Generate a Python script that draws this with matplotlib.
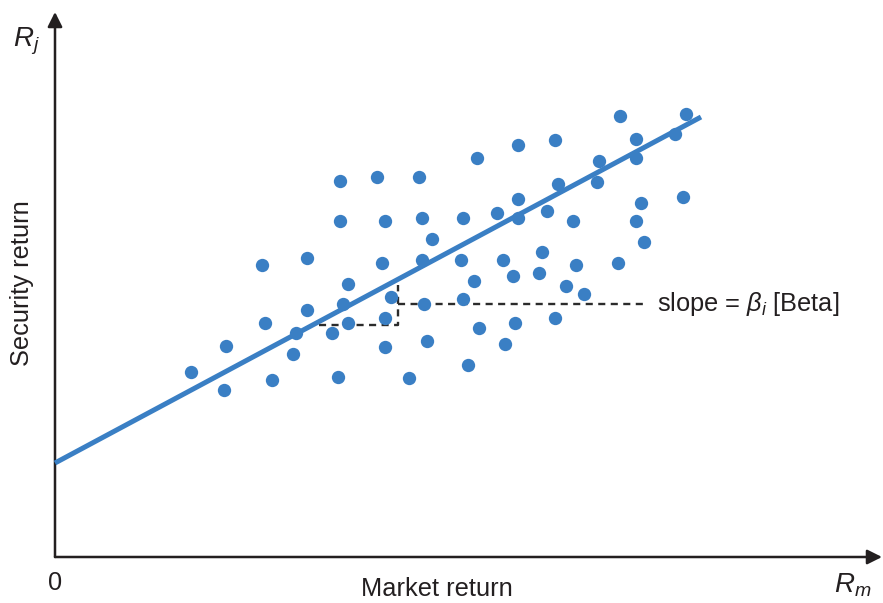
import matplotlib
matplotlib.use("Agg")
from matplotlib import pyplot as plt

# ------------ DATA (market return vs security return, arbitrary units)
market_ret = [13.6, 16.9, 17.1, 20.7, 21.0, 21.7, 23.8, 24.1, 25.2, 25.2,
              27.7, 28.3, 28.5, 28.5, 28.8, 29.3, 29.3, 32.2, 33.0, 32.7,
              33.0, 33.0, 33.6, 35.4, 36.4, 36.7, 36.7, 36.9, 37.2, 37.7,
              40.8, 40.6, 40.8, 41.3, 41.9, 42.2, 42.4, 44.2, 44.8, 45.0,
              45.8, 46.0, 46.3, 46.3, 46.3, 48.4, 48.7, 49.2, 50.0, 50.0,
              50.3, 51.1, 51.8, 52.1, 52.9, 54.2, 54.4, 56.3, 56.5, 58.1,
              58.1, 58.1, 58.6, 58.9, 62.0, 62.8, 63.1]
security_ret = [18.5, 16.7, 21.1, 29.2, 23.4, 17.7, 20.3, 22.4, 29.9, 24.7,
                22.4, 18.0, 37.6, 33.6, 25.3, 23.4, 27.3, 38.0, 33.6, 29.4,
                23.9, 21.0, 26.0, 17.9, 38.0, 33.9, 29.7, 25.3, 21.6, 31.8,
                33.9, 29.7, 25.8, 19.2, 27.6, 39.9, 22.9, 34.4, 29.7, 21.3,
                28.1, 23.4, 41.2, 35.8, 33.9, 28.4, 30.5, 34.6, 41.7, 23.9,
                37.3, 27.1, 33.6, 29.2, 26.3, 37.5, 39.6, 29.4, 44.1, 41.8,
                39.9, 33.6, 35.4, 31.5, 42.3, 36.0, 44.3]

# fitted characteristic line (end points)
fit_x = [0.0, 64.6]
fit_y = [9.4, 44.0]

# slope triangle
step_x = [26.4, 34.3, 34.3]
step_y = [23.2, 23.2, 27.2]
leader_x = [34.3, 59.0]
leader_y = [25.3, 25.3]

# ------------ STYLE
plt.rcParams['font.family'] = ['Liberation Sans', 'DejaVu Sans']
plt.rcParams['mathtext.fontset'] = 'custom'
plt.rcParams['mathtext.rm'] = 'Liberation Sans'
plt.rcParams['mathtext.it'] = 'Liberation Sans:italic'

blue = '#3a7fc4'
ink = '#231f20'
fs = 18.3

fig = plt.figure(figsize=(8.83, 6.03), dpi=100)
ax = fig.add_axes([55 / 883, 46 / 603, 1 - 55 / 883, 1 - 46 / 603])
ax.set_xlim(0, 82.8)
ax.set_ylim(0, 55.7)
ax.axis('off')

# axes with arrows
ax.annotate('', xy=(0, 54.5), xytext=(0, 0),
            arrowprops=dict(arrowstyle='-|>', color=ink, lw=1.8,
                            mutation_scale=22, shrinkA=0, shrinkB=0),
            annotation_clip=False)
ax.annotate('', xy=(82.7, 0), xytext=(0, 0),
            arrowprops=dict(arrowstyle='-|>', color=ink, lw=1.8,
                            mutation_scale=22, shrinkA=0, shrinkB=0),
            annotation_clip=False)

# scatter and line
ax.scatter(market_ret, security_ret, s=92, color=blue, linewidths=0, zorder=3)
ax.plot(fit_x, fit_y, color=blue, lw=3.6, solid_capstyle='butt', zorder=4, clip_on=False)

# slope annotation
ax.plot(step_x, step_y, color='#2b2b2b', lw=1.7, ls=(0, (3, 2.3)), zorder=2)
ax.plot(leader_x, leader_y, color='#2b2b2b', lw=1.7, ls=(0, (3, 2.3)), zorder=2)
ax.text(60.2, 25.3, r'slope = $\beta_i$ [Beta]', fontsize=fs, color=ink,
        va='center', ha='left')

# labels
ax.text(0, -2.6, '0', fontsize=fs, color=ink, ha='center', va='center', clip_on=False)
ax.text(38.2, -3.2, 'Market return', fontsize=fs, color=ink, ha='center', va='center')
ax.text(79.8, -2.8, r'$R_m$', fontsize=20, color=ink, ha='center', va='center')
ax.text(-2.9, 51.6, r'$R_j$', fontsize=20, color=ink, ha='center', va='center')
ax.text(-3.3, 27.4, 'Security return', fontsize=fs, color=ink, ha='center',
        va='center', rotation=90)

plt.savefig('out.png', dpi=100)
